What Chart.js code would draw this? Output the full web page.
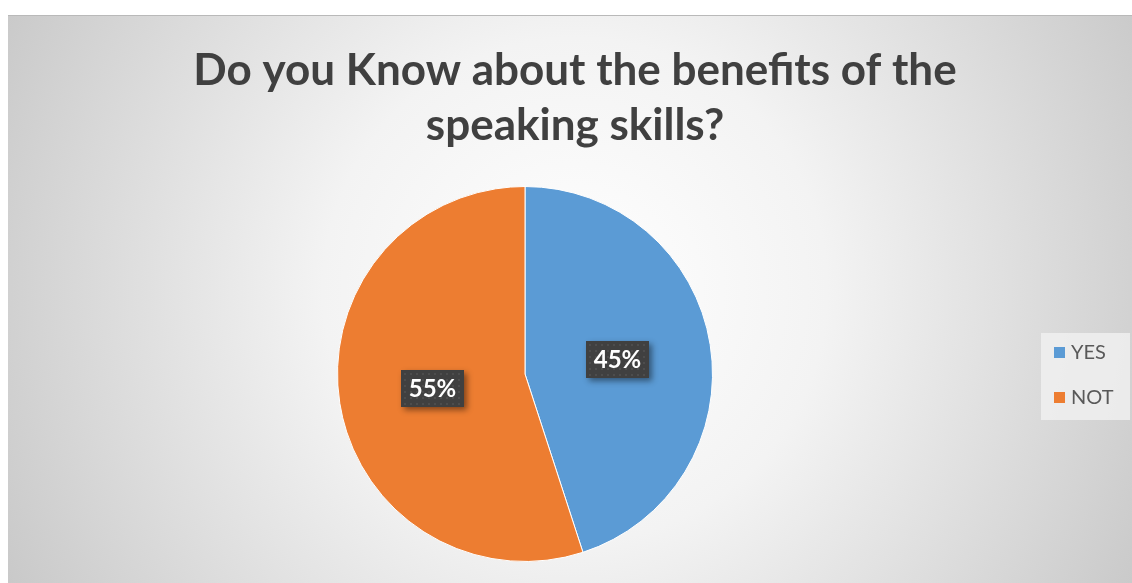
<!DOCTYPE html>
<html>
<head>
<meta charset="utf-8">
<script src="https://cdn.jsdelivr.net/npm/chart.js@4.4.1/dist/chart.umd.min.js"></script>
<style>
  html, body { margin: 0; padding: 0; background: #ffffff; }
  #wrap { position: relative; width: 1132px; height: 583px; }
</style>
</head>
<body>
<div id="wrap"><canvas id="c" width="1132" height="583"></canvas></div>
<script>
// Survey answers
const categories = ['YES', 'NOT'];
const values = [45, 55];
const valueLabels = ['45%', '55%'];
const sliceColors = ['#5B9BD5', '#ED7D31'];
const titleLines = ['Do you Know about the benefits of the', 'speaking skills?'];

// Frame: gray panel with a soft radial light in the middle
const panelPlugin = {
  id: 'panel',
  beforeDraw(chart) {
    const ctx = chart.ctx;
    const W = chart.width, H = chart.height;
    ctx.save();
    ctx.fillStyle = '#ffffff';
    ctx.fillRect(0, 0, W, H);
    const x0 = 8, y0 = 15;
    const g = ctx.createRadialGradient(575, 290, 0, 575, 290, 720);
    g.addColorStop(0, '#ffffff');
    g.addColorStop(0.35, '#f3f3f3');
    g.addColorStop(1, '#c0c0c0');
    ctx.fillStyle = g;
    ctx.fillRect(x0, y0, W - x0, H - y0);
    ctx.fillStyle = '#b9b9b9';
    ctx.fillRect(x0, y0, W - x0, 1);
    ctx.restore();
  },
  afterDraw(chart) {
    const ctx = chart.ctx;
    ctx.save();
    // Title
    ctx.fillStyle = '#404040';
    ctx.font = 'bold 44px Lato, "Open Sans", sans-serif';
    ctx.textAlign = 'center';
    ctx.textBaseline = 'alphabetic';
    ctx.fillText(titleLines[0], 575, 85);
    ctx.fillText(titleLines[1], 575, 140);

    // Value labels in dark boxes at half radius along each slice's middle angle
    const meta = chart.getDatasetMeta(0);
    meta.data.forEach((arc, i) => {
      const mid = (arc.startAngle + arc.endAngle) / 2;
      const r = arc.outerRadius * 0.5;
      const cx = arc.x + Math.cos(mid) * r;
      const cy = arc.y + Math.sin(mid) * r;
      const bw = 63, bh = 37;
      const bx = Math.round(cx - bw / 2), by = Math.round(cy - bh / 2);
      ctx.save();
      ctx.shadowColor = 'rgba(0,0,0,0.45)';
      ctx.shadowBlur = 6;
      ctx.shadowOffsetX = 3;
      ctx.shadowOffsetY = 3;
      ctx.fillStyle = '#404040';
      ctx.fillRect(bx, by, bw, bh);
      ctx.restore();
      // dotted texture
      ctx.fillStyle = 'rgba(255,255,255,0.07)';
      for (let yy = by + 3; yy < by + bh - 1; yy += 6) {
        for (let xx = bx + 3; xx < bx + bw - 1; xx += 6) {
          ctx.fillRect(xx, yy, 2, 2);
        }
      }
      ctx.fillStyle = '#ffffff';
      ctx.font = 'bold 24px Lato, "Open Sans", sans-serif';
      ctx.textAlign = 'center';
      ctx.textBaseline = 'middle';
      ctx.fillText(valueLabels[i], bx + bw / 2, by + bh / 2 + 1);
    });

    // Legend
    ctx.fillStyle = 'rgba(240,240,240,0.85)';
    ctx.fillRect(1041, 333, 89, 87);
    ctx.font = '20px Lato, "Open Sans", sans-serif';
    ctx.textAlign = 'left';
    ctx.textBaseline = 'middle';
    categories.forEach((c, i) => {
      const y = 352 + i * 45;
      ctx.fillStyle = sliceColors[i];
      ctx.fillRect(1054, y - 5, 11, 11);
      ctx.fillStyle = '#595959';
      ctx.fillText(c, 1071, y + 1);
    });
    ctx.restore();
  }
};

new Chart(document.getElementById('c'), {
  type: 'pie',
  data: {
    labels: categories,
    datasets: [{
      data: values,
      backgroundColor: sliceColors,
      borderColor: '#ffffff',
      borderWidth: 1
    }]
  },
  options: {
    responsive: false,
    animation: false,
    devicePixelRatio: 1,
    layout: { padding: { top: 186, bottom: 21, left: 337, right: 419 } },
    plugins: {
      legend: { display: false },
      title: { display: false },
      tooltip: { enabled: false }
    }
  },
  plugins: [panelPlugin]
});
</script>
</body>
</html>
